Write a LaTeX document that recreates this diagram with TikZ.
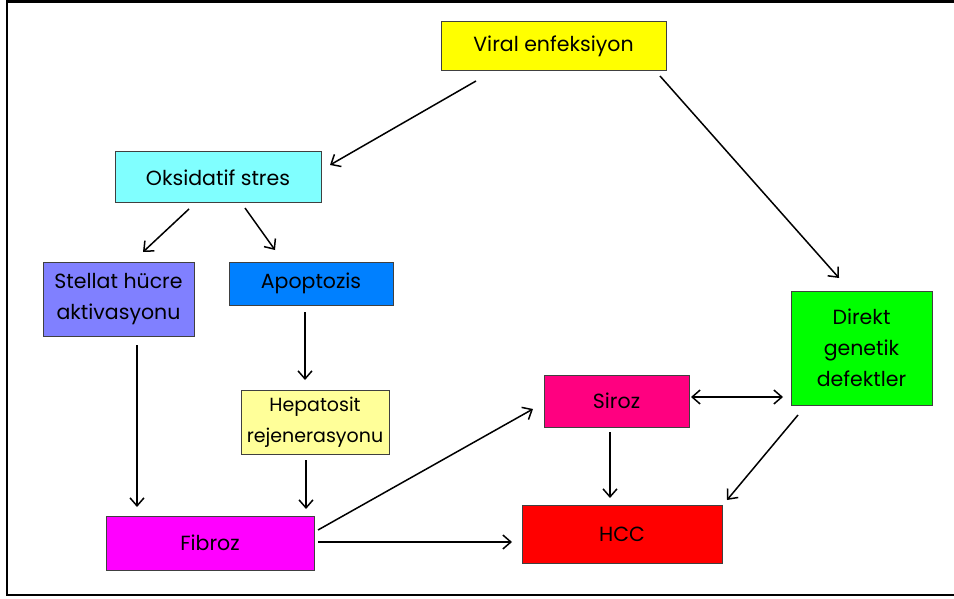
\documentclass[tikz,border=0pt]{standalone}
\usepackage{fontspec}
\setmainfont{Poppins}
\usetikzlibrary{arrows.meta}
\definecolor{cViral}{HTML}{FFFF00}
\definecolor{cOks}{HTML}{80FFFF}
\definecolor{cStel}{HTML}{8080FF}
\definecolor{cApop}{HTML}{0080FF}
\definecolor{cHepa}{HTML}{FFFF99}
\definecolor{cFib}{HTML}{FF00FF}
\definecolor{cSir}{HTML}{FF0080}
\definecolor{cHcc}{HTML}{FF0000}
\definecolor{cDir}{HTML}{00FF00}
\definecolor{cEdge}{HTML}{404040}
\begin{document}
\begin{tikzpicture}[x=1pt,y=-1pt,
  box/.style={draw=cEdge, line width=1pt, rectangle, inner sep=0pt, align=center,
    font=\fontsize{20.5}{31}\selectfont},
  arr/.style={line width=1.5pt, -{Straight Barb[length=8pt,width=14pt,line width=1.5pt]}},
  darr/.style={line width=1.5pt, {Straight Barb[length=8pt,width=14pt,line width=1.5pt]}-{Straight Barb[length=8pt,width=14pt,line width=1.5pt]}}]
\useasboundingbox (0,0) rectangle (954,599);
\draw[line width=2.4pt] (954,1.5) -- (7,1.5) -- (7,595) -- (954,595);

\node[box, fill=cViral, minimum width=225pt, minimum height=49pt] (viral) at (553.5,46.5) {Viral enfeksiyon};
\node[box, fill=cOks, minimum width=206pt, minimum height=51pt] (oks) at (218,177.5) {Oksidatif stres};
\node[box, fill=cStel, minimum width=151pt, minimum height=74pt] (stel) at (118.5,299) {Stellat hücre\\aktivasyonu};
\node[box, fill=cApop, minimum width=164pt, minimum height=43pt] (apop) at (311,283.5) {Apoptozis};
\node[box, fill=cHepa, minimum width=148pt, minimum height=64pt, font=\fontsize{19}{31}\selectfont] (hepa) at (315,422) {Hepatosit\\rejenerasyonu};
\node[box, fill=cFib, minimum width=208pt, minimum height=54pt] (fib) at (210,543) {Fibroz};
\node[box, fill=cSir, minimum width=145pt, minimum height=52pt] (sir) at (616.5,401) {Siroz};
\node[box, fill=cDir, minimum width=141pt, minimum height=114pt] (dir) at (861.5,348) {Direkt\\genetik\\defektler};
\node[box, fill=cHcc, minimum width=200pt, minimum height=58pt] (hcc) at (622,534) {HCC};

% connector end points (arrows stop short of the boxes)
\coordinate (vO) at (476,81);   \coordinate (oV) at (330,165);
\coordinate (vD) at (660,76);   \coordinate (dV) at (839,278);
\coordinate (oS) at (189,209);  \coordinate (sO) at (143,252);
\coordinate (oA) at (245,208);  \coordinate (aO) at (275,250);
\coordinate (sF) at (137,345);  \coordinate (fS) at (137,507);
\coordinate (aH) at (305,312);  \coordinate (hA) at (305,380);
\coordinate (hF) at (306,460);  \coordinate (fH) at (306,509);
\coordinate (fSi) at (318,530); \coordinate (siF) at (533,409);
\coordinate (fC) at (318,542);  \coordinate (cF) at (512,542);
\coordinate (siD) at (691,397); \coordinate (dSi) at (783,397);
\coordinate (siC) at (610,432); \coordinate (cSi) at (610,498);
\coordinate (dC) at (798,415);  \coordinate (cD) at (727,500);

\draw[arr] (vO) -- (oV);
\draw[arr] (vD) -- (dV);
\draw[arr] (oS) -- (sO);
\draw[arr] (oA) -- (aO);
\draw[arr] (sF) -- (fS);
\draw[arr] (aH) -- (hA);
\draw[arr] (hF) -- (fH);
\draw[arr] (fSi) -- (siF);
\draw[arr] (fC) -- (cF);
\draw[darr] (siD) -- (dSi);
\draw[arr] (siC) -- (cSi);
\draw[arr] (dC) -- (cD);
\end{tikzpicture}
\end{document}
